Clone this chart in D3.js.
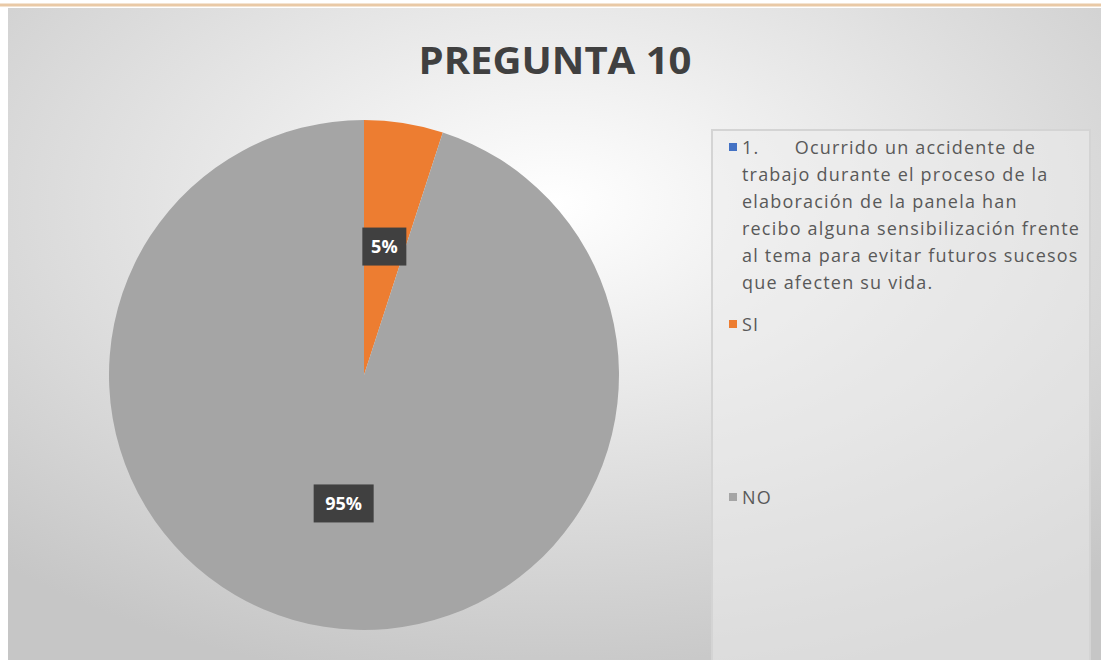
<!DOCTYPE html>
<head>
<meta charset="utf-8">
<script src="https://d3js.org/d3.v7.min.js"></script>
</head>
<style>
  body { margin: 0; background: #fff; }
  svg text { font-family: "Open Sans", "Noto Sans", sans-serif; }
</style>
<body>
<svg id="chart" width="1101" height="660"></svg>
<script>
// chart data
const categories = ["1.      Ocurrido un accidente de trabajo durante el proceso de la elaboración de la panela han recibo alguna sensibilización frente al tema para evitar futuros sucesos que afecten su vida.", "SI", "NO"];
const values = [0, 5, 95];
const labels = ["", "5%", "95%"];
const colors = ["#4472c4", "#ed7d31", "#a5a5a5"];
const legendLines = [
  ["1.      Ocurrido un accidente de", "trabajo durante el proceso de la", "elaboración de la panela han", "recibo alguna sensibilización frente", "al tema para evitar futuros sucesos", "que afecten su vida."],
  ["SI"],
  ["NO"]
];

const svg = d3.select("#chart"),
    width = +svg.attr("width"),
    height = +svg.attr("height");

// background gradient
const defs = svg.append("defs");
const bg = defs.append("radialGradient").attr("id", "bg")
    .attr("cx", 0.5).attr("cy", 0.3).attr("r", 0.75);
bg.append("stop").attr("offset", "0%").attr("stop-color", "#ffffff");
bg.append("stop").attr("offset", "100%").attr("stop-color", "#c6c6c6");

svg.append("rect").attr("x", 0).attr("y", 0).attr("width", width).attr("height", height).attr("fill", "#fff");
svg.append("rect").attr("x", 8).attr("y", 8).attr("width", width - 8).attr("height", height - 8).attr("fill", "url(#bg)");
svg.append("line").attr("x1", 0).attr("x2", width).attr("y1", 5).attr("y2", 5)
    .attr("stroke", "#e9c9a6").attr("stroke-width", 3);

// legend panel
svg.append("rect").attr("x", 712).attr("y", 130).attr("width", 378).attr("height", 540)
    .attr("fill", "#ececec").attr("fill-opacity", 0.55)
    .attr("stroke", "#d4d4d4").attr("stroke-width", 2);

// title
svg.append("text")
    .attr("x", 555).attr("y", 74)
    .attr("text-anchor", "middle")
    .attr("textLength", 273).attr("lengthAdjust", "spacingAndGlyphs")
    .style("font-size", "38px").style("font-weight", "bold")
    .style("fill", "#404040")
    .text("PREGUNTA 10");

// pie
const cx = 364, cy = 375, r = 255;
const pie = d3.pie().sort(null).value(d => d.v);
const data = pie(values.map((v, i) => ({v: v, i: i})));
const arc = d3.arc().innerRadius(0).outerRadius(r);
const labelArc = d3.arc().innerRadius(r * 0.51).outerRadius(r * 0.51);

const g = svg.append("g").attr("transform", `translate(${cx},${cy})`);
g.selectAll("path")
  .data(data)
  .join("path")
    .attr("d", arc)
    .attr("fill", d => colors[d.data.i]);

// data labels
const lab = g.selectAll("g.lab")
  .data(data.filter(d => d.data.v > 0))
  .join("g")
    .attr("class", "lab")
    .attr("transform", d => `translate(${labelArc.centroid(d)})`);
lab.append("rect")
    .attr("x", d => labels[d.data.i].length === 2 ? -22 : -30)
    .attr("y", -19)
    .attr("width", d => labels[d.data.i].length === 2 ? 44 : 60)
    .attr("height", 38)
    .attr("fill", "#404040");
lab.append("text")
    .attr("text-anchor", "middle")
    .attr("dy", "0.36em")
    .style("fill", "#fff").style("font-size", "18px").style("font-weight", "bold")
    .text(d => labels[d.data.i]);

// legend
const startY = [147, 324, 497];
categories.forEach((c, i) => {
  svg.append("rect").attr("x", 729).attr("y", startY[i] - 4).attr("width", 8).attr("height", 8)
      .attr("fill", colors[i]);
  const t = svg.append("text")
      .attr("x", 742).attr("y", startY[i] + 6)
      .style("font-size", "18px").style("fill", "#595959")
      .style("letter-spacing", "1.2px")
      .attr("xml:space", "preserve");
  legendLines[i].forEach((ln, k) => {
    t.append("tspan").attr("x", 742).attr("y", startY[i] + 7 + k * 27).text(ln);
  });
});
</script>
</body>
